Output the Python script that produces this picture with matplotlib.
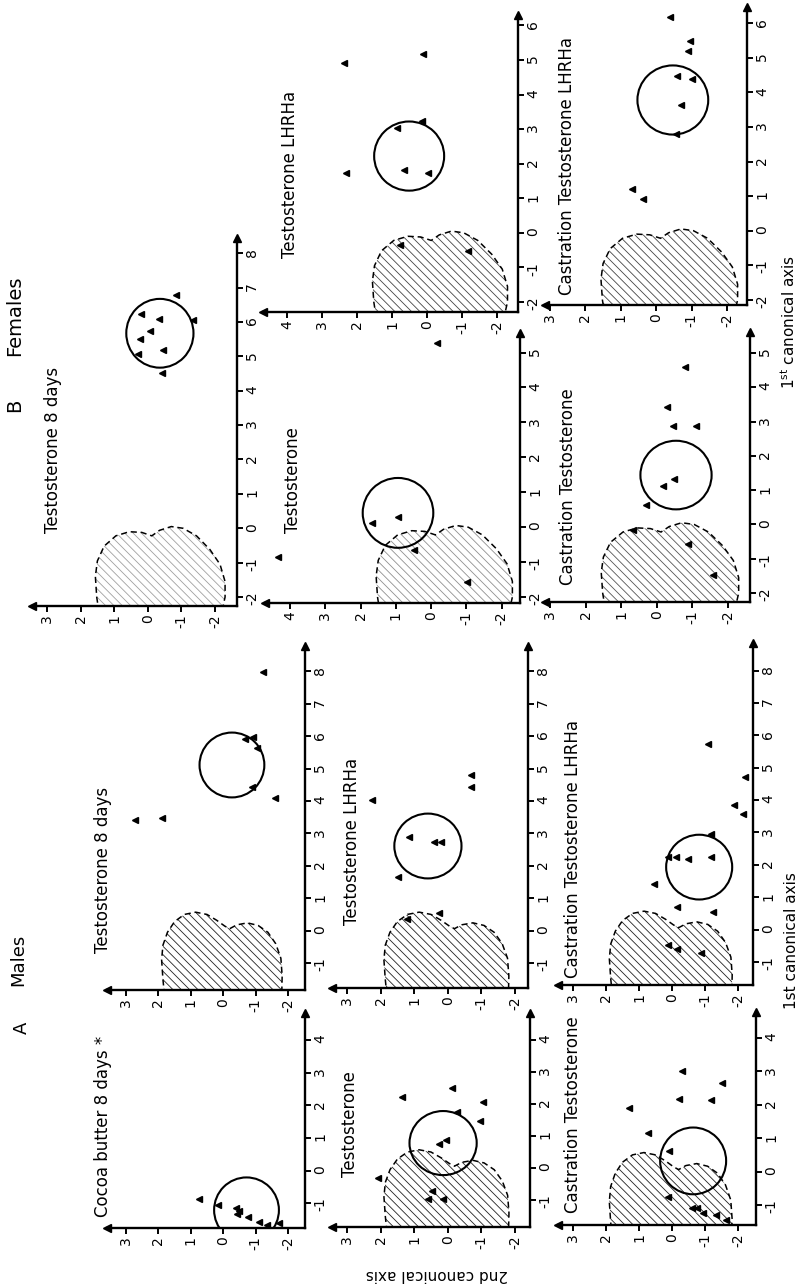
import numpy as np
import matplotlib.pyplot as plt
from matplotlib.patches import Circle, Polygon

W, H = 801, 1285

# ---- group scores: 2nd canonical axis / 1st canonical axis ----
cocoa_2nd = [0.75, 0.16, -0.40, -0.49, -0.43, -0.77, -1.10, -1.35, -1.72]
cocoa_1st = [-0.88, -1.06, -1.15, -1.25, -1.34, -1.43, -1.58, -1.67, -1.61]

m_t8_2nd = [2.72, 1.89, -0.67, -0.92, -1.04, -0.89, -1.23, -1.60]
m_t8_1st = [3.41, 3.48, 5.91, 5.98, 5.64, 4.43, 7.98, 4.09]

m_t_2nd = [2.08, 1.36, -0.13, -1.05, -0.96, -0.27, 0.05, 0.26, 0.47, 0.59, 0.14]
m_t_1st = [-0.31, 2.22, 2.50, 2.06, 1.47, 1.75, 0.88, 0.75, -0.72, -0.97, -0.97]

m_tl_2nd = [2.26, 1.48, 1.15, 0.41, 0.20, -0.69, -0.69, 0.26, 1.21]
m_tl_1st = [4.03, 1.65, 2.89, 2.73, 2.73, 4.80, 4.43, 0.54, 0.36]

m_ct_2nd = [1.30, 0.73, -0.21, -0.30, -1.18, -1.52, 0.09, 0.12, -0.61, -0.76, -0.94, -1.33, -1.64]
m_ct_1st = [1.90, 1.16, 2.17, 3.01, 2.14, 2.65, 0.62, -0.76, -1.09, -1.09, -1.24, -1.30, -1.45]

m_ctl_2nd = [-1.09, -1.88, -2.15, -2.21, -1.18, 0.12, -0.12, -0.48, -1.18, 0.55, -0.15, -1.24, 0.12, -0.15, -0.88]
m_ctl_1st = [5.73, 3.85, 3.57, 4.71, 2.95, 2.24, 2.24, 2.18, 2.24, 1.41, 0.70, 0.54, -0.48, -0.60, -0.72]

f_t8_2nd = [-0.84, -1.35, 0.20, -0.33, -0.07, 0.23, -0.45, 0.29, -0.42]
f_t8_1st = [6.78, 6.05, 6.23, 6.08, 5.73, 5.50, 5.18, 5.06, 4.51]

f_t_2nd = [-0.16, 4.34, 1.68, 0.94, 0.49, -1.01]
f_t_1st = [5.28, -0.85, 0.12, 0.29, -0.65, -1.57]

f_tl_2nd = [2.37, 0.11, 0.14, 0.86, 2.31, 0.66, -0.03, 0.77, -1.17]
f_tl_1st = [4.91, 5.17, 3.23, 3.03, 1.73, 1.82, 1.73, -0.35, -0.53]

f_ct_2nd = [-0.79, -0.29, -0.46, -1.10, -0.48, -0.17, 0.30, -0.88, -1.58, 0.67]
f_ct_1st = [4.59, 3.42, 2.87, 2.87, 1.32, 1.12, 0.57, -0.57, -1.48, -0.16]

f_ctl_2nd = [-0.39, -0.95, -0.90, -0.59, -1.01, -0.70, -0.56, 0.68, 0.37]
f_ctl_1st = [6.18, 5.49, 5.20, 4.47, 4.39, 3.64, 2.80, 1.21, 0.92]

# group centroids (circle centres), radius in canonical units
circle_centres = {
    "cocoa": (-0.72, -1.21), "m_t8": (-0.27, 5.11), "m_t": (0.14, 0.78),
    "m_tl": (0.59, 2.61), "m_ct": (-0.64, 0.32), "m_ctl": (-0.82, 1.93),
    "f_t8": (-0.36, 5.67), "f_t": (0.94, 0.41), "f_tl": (0.51, 2.22),
    "f_ct": (-0.54, 1.44), "f_ctl": (-0.47, 3.78),
}
circle_radius = 1.0

# control region outline
male_cloud_2nd = [1.78, 1.86, 1.90, 1.86, 1.72, 1.50, 1.20, 0.85, 0.50, 0.20, -0.05, -0.20,
                  -0.42, -0.75, -1.08, -1.38, -1.62, -1.78, -1.82, -1.80]
male_cloud_1st = [-2.30, -1.50, -0.90, -0.45, -0.05, 0.28, 0.50, 0.57, 0.50, 0.32, 0.14, 0.06,
                  0.18, 0.24, 0.16, -0.05, -0.40, -0.85, -1.40, -2.30]
female_cloud_2nd = [1.45, 1.52, 1.56, 1.50, 1.30, 0.95, 0.55, 0.18, -0.12, -0.35,
                    -0.70, -1.05, -1.45, -1.85, -2.15, -2.30, -2.30, -2.20]
female_cloud_1st = [-2.45, -2.00, -1.40, -0.95, -0.52, -0.22, -0.10, -0.12, -0.22, -0.06,
                    0.05, 0.00, -0.22, -0.62, -1.05, -1.55, -2.00, -2.45]

panels = [
    # key, title, x2nd, y1st, cloud, box px (left, right, bottom, top), xlim, ylim, xticks, yticks, title anchor, hatch colour
    ("cocoa", "Cocoa butter 8 days *", cocoa_2nd, cocoa_1st, None,
     (107, 305, 1228, 1013), (3.586, -2.525), (-1.76, 4.83), range(3, -3, -1), range(-1, 5), (103, 1217), None),
    ("m_t8", "Testosterone 8 days", m_t8_2nd, m_t8_1st, "m",
     (107, 305, 990, 646), (3.586, -2.525), (-1.83, 8.78), range(3, -3, -1), range(-1, 9), (103, 953), "#222222"),
    ("m_t", "Testosterone", m_t_2nd, m_t_1st, "m",
     (332, 530, 1227, 1013), (3.446, -2.446), (-1.84, 4.84), range(3, -3, -1), range(-1, 5), (350, 1177), "#222222"),
    ("m_tl", "Testosterone LHRHa", m_tl_2nd, m_tl_1st, "m",
     (332, 528, 988, 646), (3.446, -2.39), (-1.77, 8.78), range(3, -3, -1), range(-1, 9), (352, 925), "#222222"),
    ("m_ct", "Castration Testosterone", m_ct_2nd, m_ct_1st, "m",
     (558, 756, 1225, 1012), (3.455, -2.545), (-1.60, 4.78), range(3, -3, -1), range(-1, 5), (573, 1213), "#222222"),
    ("m_ctl", "Castration Testosterone LHRHa", m_ctl_2nd, m_ctl_1st, "m",
     (558, 753, 985, 643), (3.455, -2.45), (-1.71, 8.85), range(3, -3, -1), range(-1, 9), (573, 978), "#222222"),
    ("f_t8", "Testosterone 8 days", f_t8_2nd, f_t8_1st, "f",
     (32, 237, 606, 238), (3.446, -2.655), (-2.26, 8.44), range(3, -3, -1), range(-2, 9), (53, 533), "#a0a0a0"),
    ("f_t", "Testosterone", f_t_2nd, f_t_1st, "f",
     (265, 520, 603, 333), (4.708, -2.516), (-2.17, 5.56), range(4, -3, -1), range(-2, 6), (293, 533), "#909090"),
    ("f_tl", "Testosterone LHRHa", f_tl_2nd, f_tl_1st, "f",
     (263, 518, 312, 15), (4.686, -2.60), (-2.29, 6.30), range(4, -3, -1), range(-2, 7), (290, 258), "#444444"),
    ("f_ct", "Castration Testosterone", f_ct_2nd, f_ct_1st, "f",
     (545, 750, 602, 332), (3.14, -2.618), (-2.26, 5.61), range(3, -3, -1), range(-2, 6), (568, 585), "#555555"),
    ("f_ctl", "Castration Testosterone LHRHa", f_ctl_2nd, f_ctl_1st, "f",
     (545, 747, 305, 7), (3.141, -2.565), (-2.15, 6.47), range(3, -3, -1), range(-2, 7), (567, 295), "#444444"),
]

plt.rcParams['hatch.linewidth'] = 0.6
fig = plt.figure(figsize=(W / 100, H / 100), dpi=100)


def px(x, y):
    return x / W, 1 - y / H


for key, title, x2, y1, cloud, box, xlim, ylim, xt, yt, tpos, hcol in panels:
    left, right, bottom, top = box
    ax = fig.add_axes([left / W, 1 - bottom / H, (right - left) / W, (bottom - top) / H])
    ax.patch.set_alpha(0)
    ax.set_xlim(*xlim)
    ax.set_ylim(*ylim)
    for s in ['top', 'left']:
        ax.spines[s].set_visible(False)
    for s in ['bottom', 'right']:
        ax.spines[s].set_linewidth(1.7)
    ax.yaxis.tick_right()
    ax.set_xticks(list(xt))
    ax.set_xticklabels([str(t) for t in xt])
    ax.set_yticks(list(yt))
    ax.set_yticklabels([str(t) for t in yt])
    ax.tick_params(direction='out', length=4.5, width=1.4, labelsize=10, pad=1.5)
    ax.tick_params(axis='x', labelrotation=90)
    ax.tick_params(axis='y', labelrotation=90)
    ax.plot(0, 0, marker='<', color='k', ms=6, transform=ax.transAxes, clip_on=False)
    ax.plot(1, 1, marker='^', color='k', ms=6, transform=ax.transAxes, clip_on=False)

    if cloud is not None:
        cx = male_cloud_2nd if cloud == "m" else female_cloud_2nd
        cy = male_cloud_1st if cloud == "m" else female_cloud_1st
        pts = np.column_stack([cx, cy])
        ax.add_patch(Polygon(pts, closed=True, fill=False, hatch='\\\\\\\\',
                             edgecolor=hcol, lw=0))
        ax.add_patch(Polygon(pts, closed=True, fill=False, edgecolor='k',
                             lw=1.1, ls=(0, (4, 2.5))))

    ax.add_patch(Circle(circle_centres[key], circle_radius, fill=False,
                        edgecolor='k', lw=1.5))
    ax.plot(x2, y1, ls='none', marker='<', color='k', ms=4.5, clip_on=False)

    fig.text(*px(*tpos), title, rotation=90, rotation_mode='anchor',
             ha='left', va='center', fontsize=12)

# headings and axis titles
fig.text(*px(22, 1028), "A", rotation=90, ha='center', va='center', fontsize=13)
fig.text(*px(18, 960), "Males", rotation=90, ha='center', va='center', fontsize=13)
fig.text(*px(15, 405), "B", rotation=90, ha='center', va='center', fontsize=14)
fig.text(*px(15, 316), "Females", rotation=90, ha='center', va='center', fontsize=14)
fig.text(*px(437, 1274), "2nd canonical axis", rotation=180, ha='center', va='center', fontsize=11)
fig.text(*px(792, 941), "1st canonical axis", rotation=90, ha='center', va='center', fontsize=11)
fig.text(*px(789, 322), r"1$^{\mathrm{st}}$ canonical axis", rotation=90, ha='center', va='center', fontsize=11)

fig.savefig("out.png", dpi=100, facecolor='white')
